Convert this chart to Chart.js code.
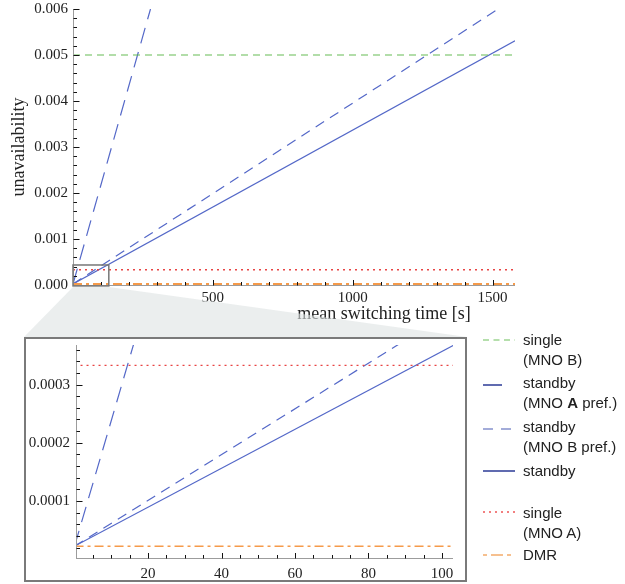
<!DOCTYPE html>
<html>
<head>
<meta charset="utf-8">
<script src="https://cdn.jsdelivr.net/npm/chart.js@4.4.1/dist/chart.umd.min.js"></script>
<style>
  body { margin: 0; background: #fff; }
  #wrap { position: relative; width: 625px; height: 584px; overflow: hidden; }
  #topChart { position: absolute; left: 0; top: 0; }
  #zoomBox { position: absolute; left: 24px; top: 337px; width: 443px; height: 245px; box-sizing: border-box; border: 2px solid #7a7a7a; background: #fff; }
  #zoomChart { display: block; }
  .key { position: absolute; left: 483px; font: 15px "Liberation Sans", Arial, sans-serif; line-height: 20px; color: #222; }
  .key svg { position: absolute; left: 0; top: 0; }
  .key span { display: block; margin-left: 40px; white-space: nowrap; }
</style>
</head>
<body>
<div id="wrap">
  <canvas id="topChart" width="625" height="340"></canvas>
  <div id="zoomBox"><canvas id="zoomChart" width="439" height="241"></canvas></div>

  <div class="key" style="top:330px">
    <svg width="32" height="20"><line x1="0" y1="10" x2="32" y2="10" stroke="#6cc05a" stroke-width="1.2" stroke-dasharray="6 4.5"/></svg>
    <span>single</span><span>(MNO B)</span>
  </div>
  <div class="key" style="top:373px">
    <svg width="32" height="20"><line x1="0" y1="12" x2="19" y2="12" stroke="#2b3a96" stroke-width="1.5"/></svg>
    <span>standby</span><span>(MNO <b>A</b> pref.)</span>
  </div>
  <div class="key" style="top:417px">
    <svg width="32" height="20"><line x1="0" y1="12" x2="32" y2="12" stroke="#a3acd9" stroke-width="2" stroke-dasharray="10 8"/></svg>
    <span>standby</span><span>(MNO B pref.)</span>
  </div>
  <div class="key" style="top:461px">
    <svg width="32" height="20"><line x1="0" y1="10" x2="32" y2="10" stroke="#2b3a96" stroke-width="1.5"/></svg>
    <span>standby</span>
  </div>
  <div class="key" style="top:503px">
    <svg width="32" height="20"><line x1="0" y1="9" x2="32" y2="9" stroke="#ee5555" stroke-width="1.3" stroke-dasharray="2 4"/></svg>
    <span>single</span><span>(MNO A)</span>
  </div>
  <div class="key" style="top:545px">
    <svg width="32" height="20"><line x1="0" y1="10" x2="32" y2="10" stroke="#f6c08f" stroke-width="2" stroke-dasharray="4 4 12 4"/></svg>
    <span>DMR</span>
  </div>
</div>

<script>
// tick labels
const topXTicks = [500, 1000, 1500];
const topYTicks = [0, 0.001, 0.002, 0.003, 0.004, 0.005, 0.006];
const zoomXTicks = [20, 40, 60, 80, 100];
const zoomYTicks = [0.0001, 0.0002, 0.0003];

// series: mean switching time [s] -> unavailability
const flatX = [0, 1580];
const singleB = [0.005, 0.005];
const singleA = [0.000333, 0.000333];
const dmr = [0.0000223, 0.0000223];
const standbyX = [0, 1580];
const standby = [0.0000223, 0.00531];
const standbyAX = [0, 1520];
const standbyA = [0.0000223, 0.006];
const standbyBX = [0, 277];
const standbyB = [0.0000223, 0.006];

// region shown in the inset
const zoomRectX = [0, 128];
const zoomRectY = [-0.00002, 0.000435];

const pts = (xs, ys) => xs.map((x, i) => ({ x: x, y: ys[i] }));

function makeDatasets(dmrWidth) {
  const base = { showLine: true, pointRadius: 0, fill: false, borderWidth: 1.2 };
  return [
    Object.assign({}, base, { label: "single (MNO B)", data: pts(flatX, singleB), borderColor: "#66bc55", borderDash: [7, 5] }),
    Object.assign({}, base, { label: "single (MNO A)", data: pts(flatX, singleA), borderColor: "#e84444", borderWidth: 1.4, borderDash: [2, 4] }),
    Object.assign({}, base, { label: "DMR", data: pts(flatX, dmr), borderColor: "#f59a4a", borderWidth: dmrWidth, borderDash: [9, 4, 3, 4] }),
    Object.assign({}, base, { label: "standby", data: pts(standbyX, standby), borderColor: "#5468c8" }),
    Object.assign({}, base, { label: "standby (MNO A pref.)", data: pts(standbyAX, standbyA), borderColor: "#5468c8", borderDash: [10, 7] }),
    Object.assign({}, base, { label: "standby (MNO B pref.)", data: pts(standbyBX, standbyB), borderColor: "#5468c8", borderDash: [16, 9] }),
  ];
}

// Mathematica-like axes: gray axis lines, ticks pointing inward
const inTicks = {
  id: "inTicks",
  afterDatasetsDraw(chart, args, o) {
    const { ctx, chartArea: a, scales: { x, y } } = chart;
    const ax = Math.round(a.left) + 0.5, ay = Math.round(a.bottom) + 0.5;
    ctx.save();
    ctx.lineWidth = 1;
    ctx.strokeStyle = "#9c9c9c";
    ctx.beginPath();
    ctx.moveTo(ax, a.top); ctx.lineTo(ax, ay);
    ctx.moveTo(a.left, ay); ctx.lineTo(a.right, ay);
    ctx.stroke();
    ctx.strokeStyle = "#111";
    ctx.beginPath();
    for (let i = 1; i * o.xStep <= x.max * (1 + 1e-6); i++) {
      const px = Math.round(x.getPixelForValue(i * o.xStep)) + 0.5;
      const len = i % o.xMajor === 0 ? 5.5 : 3.5;
      ctx.moveTo(px, ay); ctx.lineTo(px, ay - len);
    }
    for (let i = 1; i * o.yStep <= y.max * (1 + 1e-6); i++) {
      const py = Math.round(y.getPixelForValue(i * o.yStep)) + 0.5;
      const len = i % o.yMajor === 0 ? 6 : 3.5;
      ctx.moveTo(ax, py); ctx.lineTo(ax + len, py);
    }
    ctx.stroke();
    ctx.restore();
  }
};

// x title, zoom rectangle and the wedge down to the inset
const zoomLink = {
  id: "zoomLink",
  afterDraw(chart) {
    const { ctx, scales: { x, y } } = chart;
    const l = x.getPixelForValue(zoomRectX[0]), r = x.getPixelForValue(zoomRectX[1]);
    const t = y.getPixelForValue(zoomRectY[1]), b = y.getPixelForValue(zoomRectY[0]);
    ctx.save();
    ctx.font = '18px "Liberation Serif"';
    ctx.fillStyle = "#222";
    ctx.textAlign = "center";
    ctx.textBaseline = "middle";
    ctx.fillText("mean switching time [s]", 384, 314);
    ctx.strokeStyle = "#777";
    ctx.lineWidth = 1.5;
    ctx.strokeRect(l, t, r - l, b - t);
    ctx.fillStyle = "rgba(222, 226, 226, 0.6)";
    ctx.beginPath();
    ctx.moveTo(l, b + 1); ctx.lineTo(r, b + 1);
    ctx.lineTo(467, 337); ctx.lineTo(24, 337);
    ctx.closePath();
    ctx.fill();
    ctx.restore();
  }
};

const serif = { family: "Liberation Serif", size: 15 };

// no automatic room for overhanging tick labels: the plot area is set by layout padding
function noOverhang(s) {
  s.paddingTop = 0; s.paddingBottom = 0; s.paddingLeft = 0; s.paddingRight = 0;
}

function makeOptions(c) {
  return {
    responsive: false,
    animation: false,
    events: [],
    layout: { padding: c.padding },
    plugins: { legend: { display: false }, tooltip: { enabled: false }, inTicks: c.ticks },
    scales: {
      x: {
        type: "linear", min: c.xMin, max: c.xMax,
        grid: { display: false, drawTicks: false }, border: { display: false },
        afterBuildTicks: (s) => { s.ticks = c.xTicks.map((v) => ({ value: v })); },
        afterFit: (s) => { s.height = c.xHeight; noOverhang(s); },
        ticks: { padding: c.xPad, color: "#222", font: serif, maxRotation: 0, autoSkip: false, callback: (v) => String(v) },
      },
      y: {
        type: "linear", min: c.yMin, max: c.yMax,
        grid: { display: false, drawTicks: false }, border: { display: false },
        afterBuildTicks: (s) => { s.ticks = c.yTicks.map((v) => ({ value: v })); },
        afterFit: (s) => { s.width = c.yWidth; noOverhang(s); },
        ticks: { padding: c.yPad, color: "#222", font: serif, autoSkip: false, callback: (v) => v.toFixed(c.yDigits) },
        title: c.yTitle ? { display: true, text: c.yTitle, color: "#222", font: { family: "Liberation Serif", size: 18 }, padding: { top: 8, bottom: 0 } } : { display: false },
      },
    },
  };
}

new Chart(document.getElementById("topChart").getContext("2d"), {
  type: "scatter",
  data: { datasets: makeDatasets(2) },
  options: makeOptions({
    padding: { left: 0, top: 9, right: 110, bottom: 0 },
    xMin: 0, xMax: 1580, yMin: 0, yMax: 0.006,
    xTicks: topXTicks, yTicks: topYTicks,
    xHeight: 55, yWidth: 73, xPad: 4, yPad: 5, yDigits: 3,
    yTitle: "unavailability",
    ticks: { xStep: 100, xMajor: 5, yStep: 0.0002, yMajor: 5 },
  }),
  plugins: [inTicks, zoomLink],
});

new Chart(document.getElementById("zoomChart").getContext("2d"), {
  type: "scatter",
  data: { datasets: makeDatasets(1.5) },
  options: makeOptions({
    padding: { left: 0, top: 6, right: 12, bottom: 0 },
    xMin: 0.4, xMax: 103, yMin: 0.000002, yMax: 0.000368,
    xTicks: zoomXTicks, yTicks: zoomYTicks,
    xHeight: 22, yWidth: 50, xPad: 7, yPad: 6, yDigits: 4,
    yTitle: null,
    ticks: { xStep: 5, xMajor: 4, yStep: 0.00002, yMajor: 5 },
  }),
  plugins: [inTicks],
});
</script>
</body>
</html>
